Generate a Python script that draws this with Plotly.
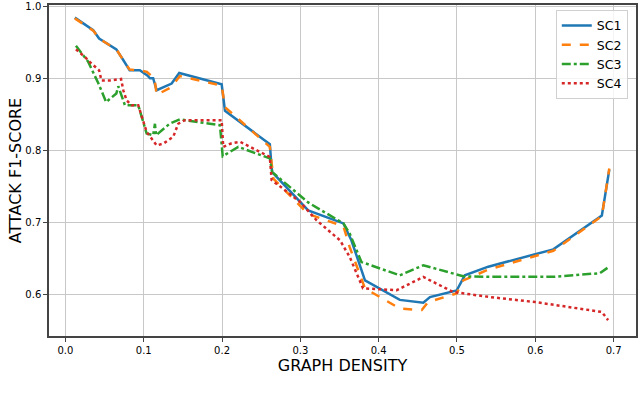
import plotly.graph_objects as go

# graph density vs attack F1-score, four scenarios
sc1_x = [0.012, 0.0355, 0.043, 0.0526, 0.065, 0.074, 0.082, 0.095, 0.1045, 0.108, 0.112, 0.1165,
         0.129, 0.1356, 0.1453, 0.1995, 0.2037, 0.261, 0.263, 0.264, 0.31, 0.355, 0.365, 0.3825,
         0.427, 0.457, 0.4655, 0.4996, 0.510, 0.54, 0.623, 0.685, 0.6945]
sc1_y = [0.984, 0.9665, 0.955, 0.948, 0.940, 0.925, 0.911, 0.911, 0.904, 0.900, 0.900, 0.8834,
         0.890, 0.8927, 0.9073, 0.8917, 0.855, 0.8086, 0.780, 0.770, 0.717, 0.699, 0.676, 0.620,
         0.593, 0.589, 0.597, 0.606, 0.627, 0.639, 0.663, 0.710, 0.7735]

sc2_x = [0.012, 0.0355, 0.043, 0.0526, 0.065, 0.074, 0.082, 0.095, 0.104, 0.110, 0.114, 0.1165,
         0.130, 0.1356, 0.146, 0.1995, 0.2037, 0.261, 0.2655, 0.31, 0.355, 0.363, 0.3825,
         0.427, 0.455, 0.463, 0.4996, 0.508, 0.54, 0.623, 0.685, 0.6945]
sc2_y = [0.983, 0.966, 0.955, 0.948, 0.940, 0.925, 0.912, 0.911, 0.909, 0.903, 0.898, 0.877,
         0.884, 0.888, 0.903, 0.890, 0.860, 0.805, 0.761, 0.712, 0.695, 0.666, 0.609,
         0.581, 0.579, 0.590, 0.602, 0.620, 0.635, 0.661, 0.709, 0.775]

sc3_x = [0.0134, 0.029, 0.042, 0.052, 0.065, 0.0675, 0.076, 0.093, 0.1037, 0.112, 0.1143, 0.1156,
         0.133, 0.146, 0.1973, 0.2008, 0.2207, 0.261, 0.264, 0.31, 0.33, 0.355, 0.363, 0.378,
         0.427, 0.457, 0.508, 0.542, 0.623, 0.6826, 0.693]
sc3_y = [0.945, 0.923, 0.893, 0.867, 0.879, 0.889, 0.8625, 0.8625, 0.8235, 0.821, 0.837, 0.821,
         0.837, 0.843, 0.835, 0.792, 0.805, 0.789, 0.770, 0.728, 0.715, 0.699, 0.685, 0.6455,
         0.627, 0.641, 0.6257, 0.625, 0.625, 0.630, 0.638]

sc4_x = [0.0134, 0.025, 0.031, 0.043, 0.046, 0.057, 0.071, 0.074, 0.078, 0.0845, 0.093, 0.0994,
         0.1037, 0.110, 0.1165, 0.125, 0.1377, 0.144, 0.1526, 0.1995, 0.2015, 0.2122, 0.223,
         0.261, 0.2633, 0.278, 0.2995, 0.321, 0.3506, 0.363, 0.380, 0.423, 0.457, 0.495, 0.508,
         0.542, 0.60, 0.685, 0.693]
sc4_y = [0.940, 0.9295, 0.9226, 0.911, 0.897, 0.897, 0.899, 0.883, 0.8695, 0.8626, 0.8626, 0.842,
         0.8256, 0.8165, 0.807, 0.8095, 0.819, 0.837, 0.842, 0.842, 0.805, 0.810, 0.812,
         0.791, 0.759, 0.747, 0.7287, 0.703, 0.6756, 0.6525, 0.609, 0.6064, 0.6248, 0.604, 0.602,
         0.597, 0.590, 0.5763, 0.565]

names = ["SC1", "SC2", "SC3", "SC4"]
colors = ["#1f77b4", "#ff7f0e", "#2ca02c", "#d62728"]
dashes = ["solid", "dash", "dashdot", "dot"]
series = [(sc1_x, sc1_y), (sc2_x, sc2_y), (sc3_x, sc3_y), (sc4_x, sc4_y)]

fig = go.Figure()
for (xs, ys), name, c, d in zip(series, names, colors, dashes):
    fig.add_trace(go.Scatter(
        x=xs, y=ys, mode="lines", name=name,
        line=dict(color=c, width=2.5, dash=d),
    ))

axis_style = dict(
    showline=True, mirror=True, linecolor="#444", linewidth=1.5,
    showgrid=True, gridcolor="#c8c8c8", gridwidth=1,
    ticks="outside", ticklen=4, tickcolor="#444",
    tickfont=dict(family="DejaVu Sans", size=10, color="black"),
    tickformat=".1f", zeroline=False, automargin=False,
)

fig.update_layout(
    width=640, height=395,
    paper_bgcolor="white", plot_bgcolor="white",
    margin=dict(l=49, r=4, t=5, b=59),
    font=dict(family="DejaVu Sans", color="black"),
    xaxis=dict(range=[-0.021, 0.7286], dtick=0.1,
               title=dict(text="GRAPH DENSITY", font=dict(size=16), standoff=1),
               **axis_style),
    yaxis=dict(range=[0.543, 1.0015], dtick=0.1,
               title=dict(text="ATTACK F1-SCORE", font=dict(size=16), standoff=0),
               **axis_style),
    legend=dict(
        x=0.986, y=0.985, xanchor="right", yanchor="top",
        bgcolor="rgba(255,255,255,0.8)", bordercolor="#d0d0d0", borderwidth=1,
        font=dict(size=12.5), tracegroupgap=0,
    ),
    showlegend=True,
)

# drop the browser's default body margin so the figure sits at the page corner
fig.write_html("out.html", config={"displayModeBar": False},
               post_script="document.body.style.margin='0';")
